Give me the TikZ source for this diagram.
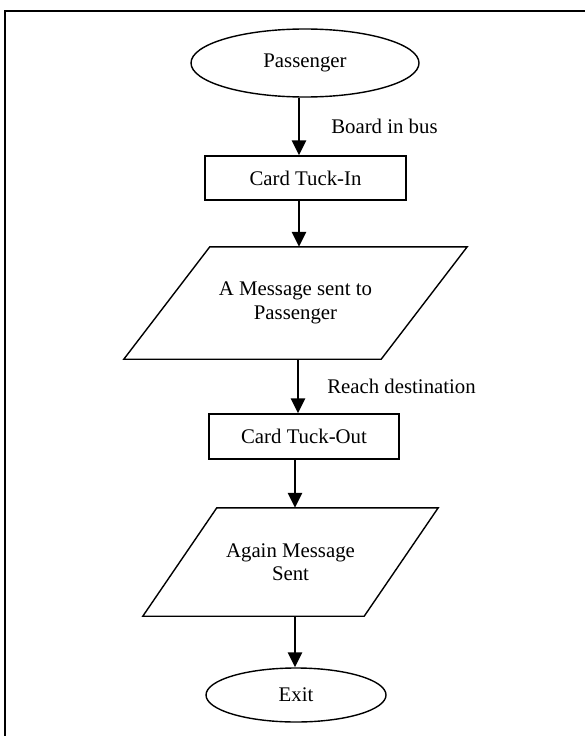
\documentclass[tikz,border=0pt]{standalone}
\usepackage{fontspec}
\setmainfont{Liberation Serif}
\usetikzlibrary{shapes.geometric,arrows.meta}

\tikzset{
	startstop/.style={ellipse, draw, line width=1.4pt, inner sep=0pt},
	process/.style={rectangle, draw, line width=1.4pt, inner sep=0pt},
	iobox/.style={rectangle, inner sep=0pt, align=center},
	flow/.style={line width=2.6pt, -{Triangle[length=15pt,width=14pt]}},
	lbl/.style={inner sep=0pt, anchor=west},
	every node/.style={font=\fontsize{20.8}{23.5}\selectfont}
}

\begin{document}
	\begin{tikzpicture}[x=1pt,y=-1pt]
		\useasboundingbox (0,0) rectangle (585,736);
		% frame
		\draw[line width=1.8pt] (5,736) -- (5,11) -- (585,11);
		
		\node[startstop, minimum width=228pt, minimum height=68pt] (pass) at (305,63) {Passenger};
		\node[process, minimum width=201pt, minimum height=44pt] (tin) at (305.5,178) {Card Tuck-In};
		\node[iobox, minimum width=343pt, minimum height=112pt] (msg1) at (295.5,303) {A Message sent to\\Passenger};
		\node[process, minimum width=190pt, minimum height=45pt] (tout) at (304,436.5) {Card Tuck-Out};
		\node[iobox, minimum width=295pt, minimum height=108pt] (msg2) at (290.5,562) {Again Message\\Sent};
		\node[startstop, minimum width=180pt, minimum height=54pt] (exit) at (296,695) {Exit};
		
		% parallelograms
		\draw[line width=1.4pt] ([xshift=86pt]msg1.north west) -- (msg1.north east) -- ([xshift=-86pt]msg1.south east) -- (msg1.south west) -- cycle;
		\draw[line width=1.4pt] ([xshift=74pt]msg2.north west) -- (msg2.north east) -- ([xshift=-74pt]msg2.south east) -- (msg2.south west) -- cycle;
		
		\draw[flow] ([xshift=-6pt]pass.south) -- node[lbl, xshift=31pt] {Board in bus} ([xshift=-6pt]pass.south |- tin.north);
		\draw[flow] ([xshift=-6.5pt]tin.south) -- ([xshift=-6.5pt]tin.south |- msg1.north);
		\draw[flow] ([xshift=2.5pt]msg1.south) -- node[lbl, xshift=28pt] {Reach destination} ([xshift=2.5pt]msg1.south |- tout.north);
		\draw[flow] ([xshift=-9pt]tout.south) -- ([xshift=-9pt]tout.south |- msg2.north);
		\draw[flow] ([xshift=4.5pt]msg2.south) -- ([xshift=4.5pt]msg2.south |- exit.north);
	\end{tikzpicture}
\end{document}
